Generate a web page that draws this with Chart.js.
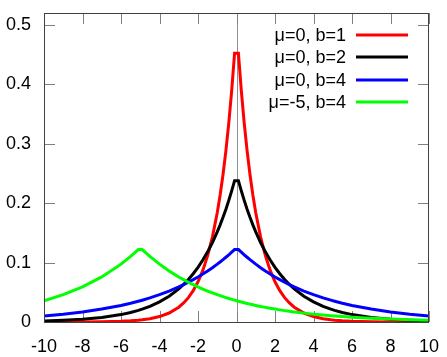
<!DOCTYPE html>
<html>
<head>
<meta charset="utf-8">
<script src="https://cdn.jsdelivr.net/npm/chart.js@4/dist/chart.umd.min.js"></script>
<style>
html,body{margin:0;padding:0;background:#fff;}
#wrap{width:447px;height:357px;}
</style>
</head>
<body>
<div id="wrap"><canvas id="c" width="447" height="357"></canvas></div>
<script>
const xValues = [-10,-9,-8,-7,-6,-5.5,-5.1,-4.9,-4.5,-4,-3.5,-3,-2.75,-2.5,-2.25,-2,-1.75,-1.5,-1.25,-1,-0.85,-0.7,-0.55,-0.4,-0.25,-0.1,
                 0.1,0.25,0.4,0.55,0.7,0.85,1,1.25,1.5,1.75,2,2.25,2.5,2.75,3,3.5,4,4.5,4.9,5.1,5.5,6,7,8,9,10];
const seriesLabels = ["μ=0, b=1","μ=0, b=2","μ=0, b=4","μ=-5, b=4"];
const seriesColors = ["#ff0000","#000000","#0000ff","#00ff00"];
const red   = [0.0000227,0.0000617,0.000168,0.000456,0.00124,0.00204,0.00305,0.00372,0.00555,0.00916,0.0151,0.0249,0.0320,0.0410,0.0527,0.0677,0.0869,0.1116,0.1433,0.1839,0.2137,0.2483,0.2885,0.3352,0.3894,0.4524,
               0.4524,0.3894,0.3352,0.2885,0.2483,0.2137,0.1839,0.1433,0.1116,0.0869,0.0677,0.0527,0.0410,0.0320,0.0249,0.0151,0.00916,0.00555,0.00372,0.00305,0.00204,0.00124,0.000456,0.000168,0.0000617,0.0000227];
const black = [0.001684,0.002777,0.004579,0.007549,0.012447,0.015982,0.019520,0.021574,0.026350,0.033834,0.043443,0.055783,0.063210,0.071626,0.081163,0.091970,0.104216,0.118092,0.133815,0.151633,0.163442,0.176172,0.189893,0.204683,0.220624,0.237807,
               0.237807,0.220624,0.204683,0.189893,0.176172,0.163442,0.151633,0.133815,0.118092,0.104216,0.091970,0.081163,0.071626,0.063210,0.055783,0.043443,0.033834,0.026350,0.021574,0.019520,0.015982,0.012447,0.007549,0.004579,0.002777,0.001684];
const blue  = [0.010261,0.013175,0.016917,0.021722,0.027891,0.031605,0.034928,0.036720,0.040582,0.045985,0.052108,0.059046,0.062851,0.066908,0.071223,0.075816,0.080706,0.085911,0.091452,0.097350,0.101069,0.104932,0.108942,0.113105,0.117427,0.121914,
               0.121914,0.117427,0.113105,0.108942,0.104932,0.101069,0.097350,0.091452,0.085911,0.080706,0.075816,0.071223,0.066908,0.062851,0.059046,0.052108,0.045985,0.040582,0.036720,0.034928,0.031605,0.027891,0.021722,0.016917,0.013175,0.010261];
const green = [0.035813,0.045985,0.059046,0.075816,0.097350,0.110312,0.121914,0.121914,0.110312,0.097350,0.085911,0.075816,0.071223,0.066908,0.062851,0.059046,0.055468,0.052108,0.048955,0.045985,0.044292,0.042662,0.041092,0.039580,0.038124,0.036720,
               0.034928,0.033643,0.032405,0.031212,0.030064,0.028958,0.027891,0.026201,0.024614,0.023123,0.021722,0.020406,0.019169,0.018008,0.016917,0.014929,0.013175,0.011628,0.010520,0.010007,0.009055,0.007991,0.006223,0.004847,0.003775,0.002940];
const xTickStep = 2;
const yTickStep = 0.1;

const allSeries = [red, black, blue, green];
const datasets = allSeries.map((vals, i) => ({
  label: seriesLabels[i],
  data: xValues.map((x, j) => ({x: x, y: vals[j]})),
  borderColor: seriesColors[i],
  backgroundColor: seriesColors[i],
  borderWidth: 3,
  borderJoinStyle: 'miter',
  pointRadius: 0,
  fill: false,
  tension: 0,
  order: 3 - i
}));

const FONT = "'Liberation Sans', Arial, sans-serif";

const framePlugin = {
  id: 'frame',
  beforeDatasetsDraw(chart) {
    const ctx = chart.ctx, a = chart.chartArea;
    const xs = chart.scales.x, ys = chart.scales.y;
    ctx.save();
    ctx.strokeStyle = '#909090';
    ctx.lineWidth = 1;
    const zx = Math.round(xs.getPixelForValue(0)) + 0.5;
    ctx.beginPath(); ctx.moveTo(zx, a.top); ctx.lineTo(zx, a.bottom); ctx.stroke();
    ctx.strokeStyle = '#808080';
    const TL = 11;
    xs.ticks.forEach(t => {
      const px = Math.round(xs.getPixelForValue(t.value)) + 0.5;
      ctx.beginPath();
      ctx.moveTo(px, a.bottom); ctx.lineTo(px, a.bottom - TL);
      ctx.moveTo(px, a.top); ctx.lineTo(px, a.top + TL);
      ctx.stroke();
    });
    ys.ticks.forEach(t => {
      const py = Math.round(ys.getPixelForValue(t.value)) + 0.5;
      ctx.beginPath();
      ctx.moveTo(a.left, py); ctx.lineTo(a.left + TL, py);
      ctx.moveTo(a.right, py); ctx.lineTo(a.right - TL, py);
      ctx.stroke();
    });
    ctx.restore();
  },
  afterDatasetsDraw(chart) {
    const ctx = chart.ctx, a = chart.chartArea;
    ctx.save();
    ctx.strokeStyle = '#404040';
    ctx.lineWidth = 1;
    ctx.strokeRect(Math.round(a.left) + 0.5, Math.round(a.top) + 0.5, Math.round(a.right - a.left) - 1, Math.round(a.bottom - a.top));
    ctx.font = '18px ' + FONT;
    ctx.textAlign = 'right';
    ctx.textBaseline = 'middle';
    const rows = [35, 57, 80, 102];
    chart.data.datasets.forEach((ds, i) => {
      const y = rows[i];
      ctx.fillStyle = '#000';
      ctx.fillText(ds.label, 346, y + 1);
      ctx.strokeStyle = ds.borderColor;
      ctx.lineWidth = 3;
      ctx.beginPath(); ctx.moveTo(356, y); ctx.lineTo(408, y); ctx.stroke();
    });
    ctx.restore();
  }
};

new Chart(document.getElementById('c'), {
  type: 'line',
  data: { datasets: datasets },
  options: {
    responsive: false,
    animation: false,
    layout: { padding: { top: 13, right: 18, left: 0, bottom: 0 } },
    plugins: { legend: { display: false }, tooltip: { enabled: false } },
    scales: {
      x: {
        type: 'linear', min: -10, max: 10,
        grid: { display: false, drawTicks: false },
        border: { display: false },
        ticks: { stepSize: xTickStep, color: '#000', font: { family: FONT, size: 18 }, padding: 14, maxRotation: 0, includeBounds: false },
        afterFit(s) { s.height = 35; s.paddingLeft = 0; s.paddingRight = 0; }
      },
      y: {
        min: 0, max: 0.52,
        grid: { display: false, drawTicks: false },
        border: { display: false },
        ticks: { stepSize: yTickStep, color: '#000', font: { family: FONT, size: 18 }, padding: 13, includeBounds: false,
          callback: v => String(+v.toFixed(1)) },
        afterFit(s) { s.width = 44; s.paddingTop = 0; s.paddingBottom = 0; }
      }
    }
  },
  plugins: [framePlugin]
});
</script>
</body>
</html>
